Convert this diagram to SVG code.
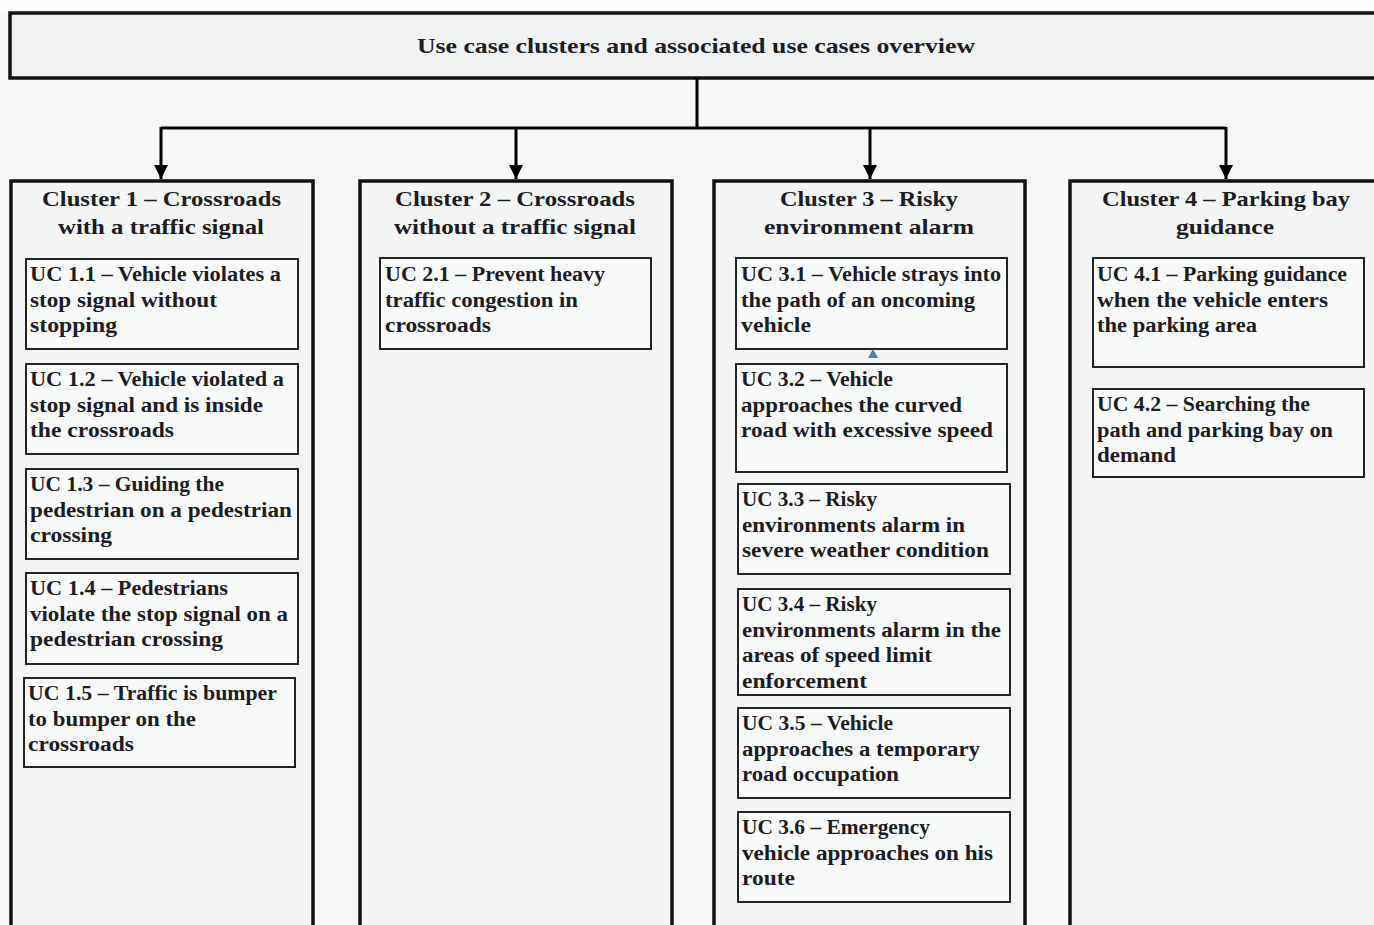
<svg xmlns="http://www.w3.org/2000/svg" width="1374" height="925" viewBox="0 0 1374 925">
<defs>
<marker id="arr" viewBox="0 0 14 14" refX="14" refY="7" markerWidth="14" markerHeight="14" markerUnits="userSpaceOnUse" orient="auto">
<path d="M0,0 L14,7 L0,14 Z" fill="#000"/>
</marker>
<style>
.bg{fill:#f6f8f8}
.title{fill:#f0f2f2;stroke:#111;stroke-width:3.5}
.cluster{fill:#f3f5f5;stroke:#111;stroke-width:3.5}
.uc{fill:#f8fafa;stroke:#222;stroke-width:2}
.conn{fill:none;stroke:#000;stroke-width:3}
text{font-family:"Liberation Serif","DejaVu Serif",serif;font-weight:bold;fill:#1c1c22}
.t{font-size:22px}
.h{font-size:22px}
.u{font-size:20px}
</style>
</defs>
<rect class="bg" x="0" y="0" width="1374" height="925"/>
<rect x="0" y="0" width="1374" height="9" fill="#fdfdfd"/>

<g id="title">
<rect class="title" x="10" y="13" width="1380" height="65"/>
<text class="t" x="417" y="53" textLength="558" lengthAdjust="spacingAndGlyphs">Use case clusters and associated use cases overview</text>
</g>

<g id="connectors">
<path class="conn" d="M697,78 V128"/>
<path class="conn" d="M161,128 H1226"/>
<path class="conn" d="M161,127 V179" marker-end="url(#arr)"/>
<path class="conn" d="M516,128 V179" marker-end="url(#arr)"/>
<path class="conn" d="M870,128 V179" marker-end="url(#arr)"/>
<path class="conn" d="M1226,127 V179" marker-end="url(#arr)"/>
</g>

<g id="cluster1">
<rect class="cluster" x="11" y="181" width="302" height="760"/>
<text class="h" x="42" y="206" textLength="239" lengthAdjust="spacingAndGlyphs">Cluster 1 – Crossroads</text>
<text class="h" x="58" y="234" textLength="206" lengthAdjust="spacingAndGlyphs">with a traffic signal</text>
</g>
<g id="uc11">
<rect class="uc" x="26" y="259" width="272" height="90"/>
<text class="u" x="30" y="281" textLength="251" lengthAdjust="spacingAndGlyphs">UC 1.1 – Vehicle violates a</text>
<text class="u" x="30" y="307" textLength="187" lengthAdjust="spacingAndGlyphs">stop signal without</text>
<text class="u" x="30" y="332" textLength="87" lengthAdjust="spacingAndGlyphs">stopping</text>
</g>
<g id="uc12">
<rect class="uc" x="26" y="364" width="272" height="90"/>
<text class="u" x="30" y="386" textLength="254" lengthAdjust="spacingAndGlyphs">UC 1.2 – Vehicle violated a</text>
<text class="u" x="30" y="412" textLength="233" lengthAdjust="spacingAndGlyphs">stop signal and is inside</text>
<text class="u" x="30" y="437" textLength="144" lengthAdjust="spacingAndGlyphs">the crossroads</text>
</g>
<g id="uc13">
<rect class="uc" x="26" y="469" width="272" height="90"/>
<text class="u" x="30" y="491" textLength="194" lengthAdjust="spacingAndGlyphs">UC 1.3 – Guiding the</text>
<text class="u" x="30" y="517" textLength="262" lengthAdjust="spacingAndGlyphs">pedestrian on a pedestrian</text>
<text class="u" x="30" y="542" textLength="82" lengthAdjust="spacingAndGlyphs">crossing</text>
</g>
<g id="uc14">
<rect class="uc" x="26" y="573" width="272" height="91"/>
<text class="u" x="30" y="595" textLength="198" lengthAdjust="spacingAndGlyphs">UC 1.4 – Pedestrians</text>
<text class="u" x="30" y="621" textLength="258" lengthAdjust="spacingAndGlyphs">violate the stop signal on a</text>
<text class="u" x="30" y="646" textLength="193" lengthAdjust="spacingAndGlyphs">pedestrian crossing</text>
</g>
<g id="uc15">
<rect class="uc" x="24" y="678" width="271" height="89"/>
<text class="u" x="28" y="700" textLength="249" lengthAdjust="spacingAndGlyphs">UC 1.5 – Traffic is bumper</text>
<text class="u" x="28" y="726" textLength="168" lengthAdjust="spacingAndGlyphs">to bumper on the</text>
<text class="u" x="28" y="751" textLength="106" lengthAdjust="spacingAndGlyphs">crossroads</text>
</g>

<g id="cluster2">
<rect class="cluster" x="360" y="181" width="312" height="760"/>
<text class="h" x="395" y="206" textLength="240" lengthAdjust="spacingAndGlyphs">Cluster 2 – Crossroads</text>
<text class="h" x="394" y="234" textLength="242" lengthAdjust="spacingAndGlyphs">without a traffic signal</text>
</g>
<g id="uc21">
<rect class="uc" x="380" y="258" width="271" height="91"/>
<text class="u" x="385" y="281" textLength="220" lengthAdjust="spacingAndGlyphs">UC 2.1 – Prevent heavy</text>
<text class="u" x="385" y="307" textLength="193" lengthAdjust="spacingAndGlyphs">traffic congestion in</text>
<text class="u" x="385" y="332" textLength="106" lengthAdjust="spacingAndGlyphs">crossroads</text>
</g>

<g id="cluster3">
<rect class="cluster" x="714" y="181" width="311" height="760"/>
<text class="h" x="780" y="206" textLength="178" lengthAdjust="spacingAndGlyphs">Cluster 3 – Risky</text>
<text class="h" x="764" y="234" textLength="210" lengthAdjust="spacingAndGlyphs">environment alarm</text>
</g>
<g id="uc31">
<rect class="uc" x="736" y="258" width="271" height="91"/>
<text class="u" x="741" y="281" textLength="260" lengthAdjust="spacingAndGlyphs">UC 3.1 – Vehicle strays into</text>
<text class="u" x="741" y="307" textLength="234" lengthAdjust="spacingAndGlyphs">the path of an oncoming</text>
<text class="u" x="741" y="332" textLength="70" lengthAdjust="spacingAndGlyphs">vehicle</text>
</g>
<path d="M868,358 L873,349 L878,358 Z" fill="#4a7cc0"/>
<g id="uc32">
<rect class="uc" x="736" y="364" width="271" height="108"/>
<text class="u" x="741" y="386" textLength="152" lengthAdjust="spacingAndGlyphs">UC 3.2 – Vehicle</text>
<text class="u" x="741" y="412" textLength="221" lengthAdjust="spacingAndGlyphs">approaches the curved</text>
<text class="u" x="741" y="437" textLength="252" lengthAdjust="spacingAndGlyphs">road with excessive speed</text>
</g>
<g id="uc33">
<rect class="uc" x="738" y="484" width="272" height="90"/>
<text class="u" x="742" y="506" textLength="135" lengthAdjust="spacingAndGlyphs">UC 3.3 – Risky</text>
<text class="u" x="742" y="532" textLength="223" lengthAdjust="spacingAndGlyphs">environments alarm in</text>
<text class="u" x="742" y="557" textLength="247" lengthAdjust="spacingAndGlyphs">severe weather condition</text>
</g>
<g id="uc34">
<rect class="uc" x="738" y="589" width="272" height="106"/>
<text class="u" x="742" y="611" textLength="135" lengthAdjust="spacingAndGlyphs">UC 3.4 – Risky</text>
<text class="u" x="742" y="637" textLength="259" lengthAdjust="spacingAndGlyphs">environments alarm in the</text>
<text class="u" x="742" y="662" textLength="190" lengthAdjust="spacingAndGlyphs">areas of speed limit</text>
<text class="u" x="742" y="688" textLength="125" lengthAdjust="spacingAndGlyphs">enforcement</text>
</g>
<g id="uc35">
<rect class="uc" x="738" y="708" width="272" height="90"/>
<text class="u" x="742" y="730" textLength="151" lengthAdjust="spacingAndGlyphs">UC 3.5 – Vehicle</text>
<text class="u" x="742" y="756" textLength="238" lengthAdjust="spacingAndGlyphs">approaches a temporary</text>
<text class="u" x="742" y="781" textLength="157" lengthAdjust="spacingAndGlyphs">road occupation</text>
</g>
<g id="uc36">
<rect class="uc" x="738" y="812" width="272" height="90"/>
<text class="u" x="742" y="834" textLength="188" lengthAdjust="spacingAndGlyphs">UC 3.6 – Emergency</text>
<text class="u" x="742" y="860" textLength="251" lengthAdjust="spacingAndGlyphs">vehicle approaches on his</text>
<text class="u" x="742" y="885" textLength="53" lengthAdjust="spacingAndGlyphs">route</text>
</g>

<g id="cluster4">
<rect class="cluster" x="1070" y="181" width="330" height="760"/>
<text class="h" x="1102" y="206" textLength="248" lengthAdjust="spacingAndGlyphs">Cluster 4 – Parking bay</text>
<text class="h" x="1176" y="234" textLength="98" lengthAdjust="spacingAndGlyphs">guidance</text>
</g>
<g id="uc41">
<rect class="uc" x="1093" y="258" width="271" height="109"/>
<text class="u" x="1097" y="281" textLength="250" lengthAdjust="spacingAndGlyphs">UC 4.1 – Parking guidance</text>
<text class="u" x="1097" y="307" textLength="231" lengthAdjust="spacingAndGlyphs">when the vehicle enters</text>
<text class="u" x="1097" y="332" textLength="160" lengthAdjust="spacingAndGlyphs">the parking area</text>
</g>
<g id="uc42">
<rect class="uc" x="1093" y="389" width="271" height="88"/>
<text class="u" x="1097" y="411" textLength="213" lengthAdjust="spacingAndGlyphs">UC 4.2 – Searching the</text>
<text class="u" x="1097" y="437" textLength="236" lengthAdjust="spacingAndGlyphs">path and parking bay on</text>
<text class="u" x="1097" y="462" textLength="79" lengthAdjust="spacingAndGlyphs">demand</text>
</g>
</svg>
